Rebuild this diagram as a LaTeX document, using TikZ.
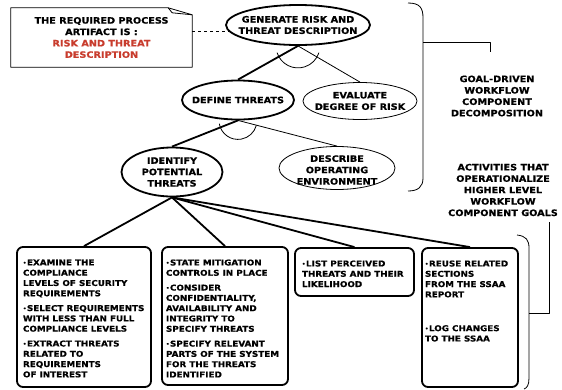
\documentclass[tikz,border=0pt]{standalone}
\usepackage{fontspec}
\setmainfont{DejaVu Sans}[FakeStretch=1.1, BoldFeatures={FakeBold=0.8}]
\usepackage{tikz}
\usetikzlibrary{shapes.geometric}
\definecolor{artred}{RGB}{200,60,45}

\newcommand{\itm}{\par\hangindent=4pt\hangafter=1\noindent
  \makebox[4pt][l]{\raisebox{0.2ex}{\scalebox{0.6}{\textbullet}}}}
\newcommand{\actlist}[3]{\begin{minipage}[c][#2][t]{#1}
  \raggedright\setlength{\parskip}{4.5pt}\fontsize{8}{10.3}\selectfont\bfseries #3
  \end{minipage}}

\begin{document}
\begin{tikzpicture}[x=1pt, y=-1pt, line join=round,
    every node/.style={font=\fontsize{8.8}{11.4}\selectfont\bfseries, align=center},
    goal/.style={draw, ellipse, line width=1.8pt, inner sep=0pt},
    subgoal/.style={draw, ellipse, line width=0.8pt, inner sep=0pt},
    link/.style={line width=1.8pt},
    thinlink/.style={line width=0.8pt},
    actbox/.style={draw, line width=1.8pt, rounded corners=6pt, inner sep=0pt}]
  \useasboundingbox (0,0) rectangle (562,389);

  % goal tree
  \node[goal, minimum width=144, minimum height=40] (gen) at (298,25)
    [label={center:GENERATE RISK AND\\THREAT DESCRIPTION}] {};
  \node[goal, minimum width=112, minimum height=39] (def) at (238,100)
    [label={center:DEFINE THREATS}] {};
  \node[subgoal, minimum width=114, minimum height=37] (eval) at (360,101)
    [label={center:EVALUATE\\DEGREE OF RISK}] {};
  \node[goal, minimum width=101, minimum height=49] (ident) at (172,172)
    [label={center:IDENTIFY\\POTENTIAL\\THREATS}] {};
  \node[subgoal, minimum width=116, minimum height=43] (desc) at (337,168)
    [label={[yshift=-2pt]center:DESCRIBE\\OPERATING\\ENVIRONMENT}] {};

  % process artifact note
  \node[minimum width=181, minimum height=59, inner sep=0pt] (note) at (101.5,37.5)
    {THE REQUIRED PROCESS\\ARTIFACT IS :\\\textcolor{artred}{RISK AND THREAT}\\
     \textcolor{artred}{DESCRIPTION}};
  \draw[thinlink] (note.south west) -- (note.north west)
    -- ([xshift=-24]note.north east) -- ([yshift=-7]note.north east)
    -- (note.south east) -- cycle;
  \draw[thinlink] ([xshift=-24]note.north east) -- ([xshift=-20,yshift=-5]note.north east)
    -- ([yshift=-7]note.north east);
  \draw[thinlink, dashed] (note.east |- gen.185) -- (gen.185);

  % decomposition links
  \draw[link] (gen.south) -- (def.north);
  \draw[thinlink] (gen.south) -- (eval.north);
  \draw[thinlink] ([shift={(198:22pt)}]gen.south) arc[start angle=198, end angle=342, radius=22pt];
  \draw[link] (def.south) -- (ident.north);
  \draw[thinlink] (def.south) -- (desc.north);
  \draw[thinlink] ([shift={(190:19pt)}]def.south) arc[start angle=190, end angle=345, radius=19pt];

  % activities
  \node[actbox, minimum width=134, minimum height=140] (act1) at (84,317)
    {\actlist{122pt}{115pt}{%
      \itm EXAMINE THE\\COMPLIANCE\\LEVELS OF SECURITY\\REQUIREMENTS
      \itm SELECT REQUIREMENTS\\WITH LESS THAN FULL\\COMPLIANCE LEVELS
      \itm EXTRACT THREATS\\RELATED TO\\REQUIREMENTS\\OF INTEREST}};
  \node[actbox, minimum width=126, minimum height=138] (act2) at (225,316)
    {\actlist{118pt}{113pt}{%
      \itm STATE MITIGATION\\CONTROLS IN PLACE
      \itm CONSIDER\\CONFIDENTIALITY,\\AVAILABILITY AND\\INTEGRITY TO\\SPECIFY THREATS
      \itm SPECIFY RELEVANT\\PARTS OF THE SYSTEM\\FOR THE THREATS\\IDENTIFIED}};
  \node[actbox, minimum width=119, minimum height=48] (act3) at (354.5,272)
    {\actlist{105pt}{23pt}{%
      \itm LIST PERCEIVED\\THREATS AND THEIR\\LIKELIHOOD}};
  \node[actbox, minimum width=96, minimum height=139] (act4) at (470,317.5)
    {\actlist{90pt}{114pt}{%
      \itm REUSE RELATED\\SECTIONS\\FROM THE SSAA\\REPORT
      \vspace{19pt}
      \itm LOG CHANGES\\TO THE SSAA}};
  \foreach \b in {act1,act2,act3,act4}
    \draw[link] (ident.south) -- (\b.north);

  % side annotations
  \node (goaltxt) at (497,96) {GOAL-DRIVEN\\WORKFLOW\\COMPONENT\\DECOMPOSITION};
  \node (acttxt) at (503,190) {ACTIVITIES THAT\\OPERATIONALIZE\\HIGHER LEVEL\\WORKFLOW\\COMPONENT GOALS};
  \coordinate (goalend) at (490,52);
  \coordinate (actend) at (549,222);
  \draw[thinlink] (408,3) .. controls (420,3) and (423,8) .. (423,18)
    -- (423,178) .. controls (423,187) and (418,191) .. (408,191);
  \draw[thinlink] (423,42) -| (goalend);
  \draw[thinlink] (517,235) .. controls (526,236) and (529,240) .. (529,248)
    -- (529,378) .. controls (529,385) and (527,388) .. (524,389);
  \draw[thinlink] (529,313) -| (actend);
\end{tikzpicture}
\end{document}
